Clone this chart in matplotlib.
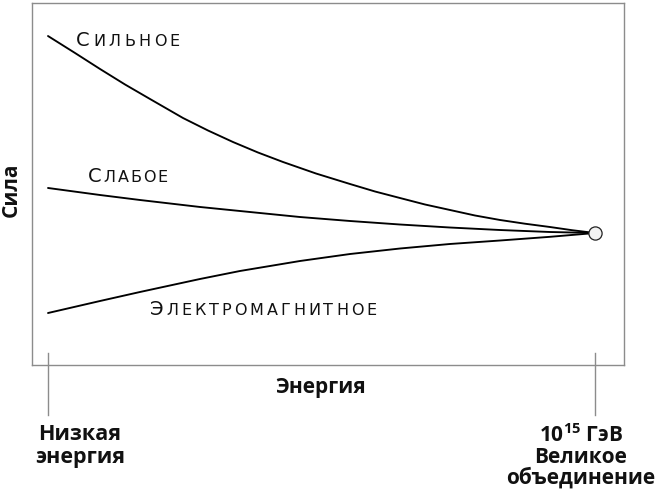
import matplotlib
matplotlib.use('Agg')
import matplotlib.pyplot as plt
from matplotlib.transforms import offset_copy

# ---- data (energy: 0 = low energy, 1 = grand unification; force in arbitrary units) ----
strong_x = [0.0, 0.0494, 0.0951, 0.1408, 0.1865, 0.2468, 0.2925, 0.3382, 0.3839, 0.4296, 0.4899,
            0.5521, 0.5978, 0.6435, 0.6892, 0.7349, 0.7806, 0.8263, 0.8720, 0.9177, 0.9580, 1.0]
strong_y = [90.88, 86.19, 81.77, 77.49, 73.48, 68.23, 64.78, 61.60, 58.70, 56.08, 52.90,
            50.00, 47.93, 46.13, 44.34, 42.82, 41.30, 40.06, 39.03, 38.12, 37.24, 36.46]

weak_x = [0.0, 0.0951, 0.1682, 0.2779, 0.3510, 0.4607, 0.5521, 0.6435, 0.7349, 0.8263, 0.9177, 1.0]
weak_y = [48.90, 46.96, 45.58, 43.65, 42.54, 40.88, 39.78, 38.81, 37.98, 37.29, 36.74, 36.46]

em_x = [0.0, 0.0951, 0.1682, 0.2779, 0.3510, 0.4607, 0.5521, 0.6435, 0.7349, 0.8263, 0.9177, 1.0]
em_y = [14.36, 17.68, 20.17, 23.76, 25.97, 28.73, 30.66, 32.18, 33.43, 34.39, 35.41, 36.46]

unif_x = [1.0]
unif_y = [36.46]

tick_pos = [0.0, 1.0]

curve_labels = ["Сильное", "Слабое", "Электромагнитное"]
label_pos = [(0.051, 88.1), (0.073, 50.6), (0.186, 13.8)]
label_width_px = [104, 80, 227]

left_label = ["Низкая", "энергия"]
right_label = ["10$^{15}$ ГэВ", "Великое", "объединение"]
xlabel = "Энергия"
ylabel = "Сила"

# ---- figure ----
W, H = 663, 491
plt.rcParams['mathtext.fontset'] = 'custom'
plt.rcParams['mathtext.bf'] = 'Open Sans:bold'
plt.rcParams['mathtext.rm'] = 'Open Sans:bold'
plt.rcParams['mathtext.default'] = 'bf'

fig = plt.figure(figsize=(W / 100, H / 100), dpi=100)
ax = fig.add_axes([32 / W, 1 - 365 / H, (624 - 32) / W, (365 - 3) / H])
ax.set_xlim(-0.02925, 1.0530)
ax.set_ylim(0, 100)
ax.set_xticks([])
ax.set_yticks([])
for s in ax.spines.values():
    s.set_color('#8c8c8c')
    s.set_linewidth(1.0)

lw = 1.35
for xs, ys in ((strong_x, strong_y), (weak_x, weak_y), (em_x, em_y)):
    ax.plot(xs, ys, color='black', lw=lw, solid_capstyle='round', solid_joinstyle='round')
ax.plot(unif_x, unif_y, 'o', ms=9.5, mfc='#f2f2f2', mec='#222222', mew=0.9, zorder=5)

for tx in tick_pos:
    ax.plot([tx, tx], [3.3, -13.8], color='#8c8c8c', lw=1.0, clip_on=False)

LABEL_FONT = 'DejaVu Sans'
renderer = fig.canvas.get_renderer()


def smallcaps(x, y, text, big, small, total_px):
    chars = []
    for i, ch in enumerate(text):
        size = big if i == 0 else small
        c = ch if i == 0 else ch.upper()
        t = ax.text(x, y, c, fontsize=size, family=LABEL_FONT, ha='left', va='baseline',
                    color='#111111', fontweight='normal')
        w = t.get_window_extent(renderer).width
        chars.append((t, w))
    total = sum(w for _, w in chars)
    track = (total_px - total) / max(len(chars) - 1, 1)
    off = 0.0
    for t, w in chars:
        t.set_transform(offset_copy(ax.transData, fig=fig, x=off, y=0, units='dots'))
        off += w + track


for lab, (lx, ly), tw in zip(curve_labels, label_pos, label_width_px):
    smallcaps(lx, ly, lab, 14.0, 11.5, tw)

BOLD = dict(family='Open Sans', fontweight='bold', fontsize=15, color='#111111')


def ftext(px, py, s, **kw):
    fig.text(px / W, 1 - py / H, s, **kw)


ftext(321, 393, xlabel, ha='center', va='baseline', **BOLD)
ftext(11, 190, ylabel, ha='center', va='center', rotation=90, **BOLD)

BOLD_L = dict(BOLD, fontsize=15.5)
ftext(80, 440, left_label[0], ha='center', va='baseline', **BOLD_L)
ftext(80, 463, left_label[1], ha='center', va='baseline', **BOLD_L)

ftext(581, 442, right_label[0], ha='center', va='baseline', **BOLD)
ftext(581, 463, right_label[1], ha='center', va='baseline', **BOLD)
ftext(581, 484, right_label[2], ha='center', va='baseline', **BOLD)

fig.savefig('out.png', dpi=100)
